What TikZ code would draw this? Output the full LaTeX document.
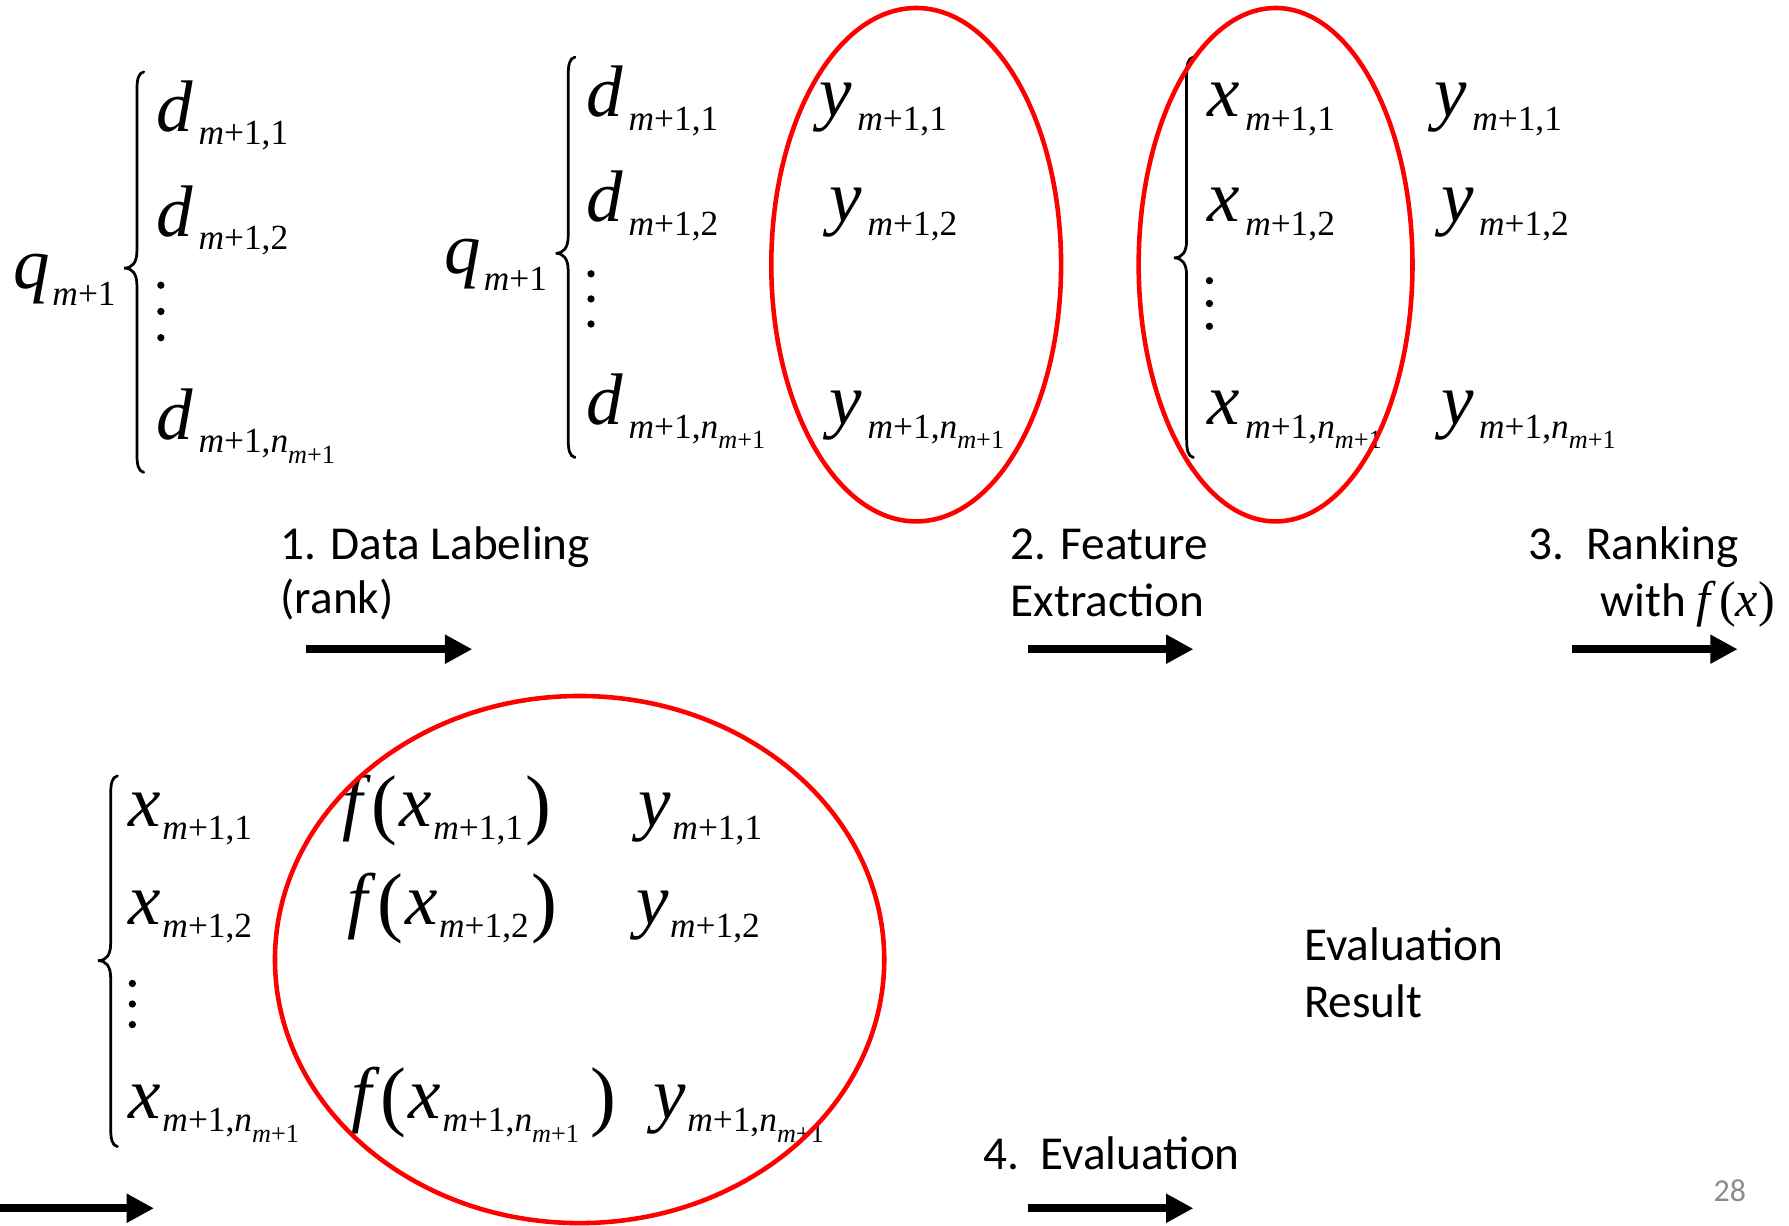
\documentclass[tikz,border=0pt]{standalone}
\usepackage{fontspec}
\setmainfont{Carlito}
\newfontfamily\tnr{Liberation Serif}
\usetikzlibrary{arrows.meta}
\definecolor{pagegray}{RGB}{140,140,140}
\definecolor{ellred}{RGB}{255,0,0}
\newcommand{\bsz}{\fontsize{32}{32}\selectfont}
\newcommand{\ssz}{\fontsize{15.5}{15.5}\selectfont}
\newcommand{\sssz}{\fontsize{11.5}{11.5}\selectfont}
\newcommand{\subkern}{2.5pt}
\newcommand{\mi}[1]{{\itshape #1}}
\newcommand{\lowsub}[1]{\kern\subkern\raisebox{-6pt}{\ssz\upshape #1}}
\newcommand{\nsub}{\mi{m}+1,\mi{n}\raisebox{-4.5pt}{\sssz\mi{m}+1}}
\newcommand{\tvar}[2]{{\tnr\bsz\mi{#1}\lowsub{#2}}}
\newcommand{\qvar}{{\tnr\bsz\mi{q}\kern1pt\raisebox{-7.5pt}{\ssz\mi{m}+1}}}
\newcommand{\fvar}[1]{{\tnr\bsz\mi{f}\kern4pt\raisebox{-1.5pt}{\fontsize{34}{34}\selectfont(}\kern1pt\mi{x}\lowsub{#1}\kern1pt\raisebox{-1.5pt}{\fontsize{34}{34}\selectfont)}}}
\newcommand{\tbrace}[4]{% #1 x of line, #2 top, #3 tip y, #4 bottom
  \draw[bracestyle] ({#1+6},#2) .. controls ({#1+1},{#2+1}) and (#1,{#2+7}) .. (#1,{#2+17})
    -- (#1,{#3-15}) .. controls (#1,{#3-5}) and ({#1-4},#3) .. ({#1-11},#3)
    .. controls ({#1-4},#3) and (#1,{#3+5}) .. (#1,{#3+15})
    -- (#1,{#4-17}) .. controls (#1,{#4-7}) and ({#1+1},{#4-1}) .. ({#1+6},#4);}
\newcommand{\vdotsat}[4]{\fill (#1,#2) circle (1.6pt) (#1,#3) circle (1.6pt) (#1,#4) circle (1.6pt);}
\begin{document}
\begin{tikzpicture}[x=0.5pt,y=-0.5pt,
  every node/.style={inner sep=0pt, outer sep=0pt, anchor=base west},
  lbl/.style={font=\fontsize{20.7}{24}\selectfont},
  tight/.style={execute at begin node={\renewcommand{\subkern}{0.5pt}}},
  bracestyle/.style={line width=1.2pt, line cap=round},
  bigarrow/.style={line width=3.5pt, -{Triangle[length=12pt,width=12pt]}},
  redell/.style={draw=ellred, line width=2pt}]
\useasboundingbox (0,0) rectangle (1568,1074);

% group 1
\node (q1) at (12,253) {\qvar};
\tbrace{120}{63}{235}{414}
\node (d11) at (137,115) {\tvar{d}{\mi{m}+1,1}};
\node (d12) at (137,207) {\tvar{d}{\mi{m}+1,2}};
\node (d1n) at (137,385) {\tvar{d}{\nsub}};
\vdotsat{141}{250}{273}{296}

% group 2
\node (q2) at (390,240) {\qvar};
\tbrace{498}{50}{222}{401}
\node (d21) at (514,102) {\tvar{d}{\mi{m}+1,1}};
\node (d22) at (514,194) {\tvar{d}{\mi{m}+1,2}};
\node (d2n) at (514,372) {\tvar{d}{\nsub}};
\vdotsat{518}{240}{262}{284}
\node (y21) at (718,102) {\tvar{y}{\mi{m}+1,1}};
\node (y22) at (727,194) {\tvar{y}{\mi{m}+1,2}};
\node (y2n) at (727,372) {\tvar{y}{\nsub}};

% group 3
\tbrace{1040}{50}{226}{401}
\node (x31) at (1058,102) {\tvar{x}{\mi{m}+1,1}};
\node (x32) at (1058,194) {\tvar{x}{\mi{m}+1,2}};
\node (x3n) at (1058,372) {\tvar{x}{\nsub}};
\vdotsat{1060}{246}{266}{286}
\node (y31) at (1257,102) {\tvar{y}{\mi{m}+1,1}};
\node (y32) at (1263,194) {\tvar{y}{\mi{m}+1,2}};
\node (y3n) at (1263,372) {\tvar{y}{\nsub}};

% group 4
\tbrace{97}{680}{842}{1005}
\node[tight] (x41) at (113,724) {\tvar{x}{\mi{m}+1,1}};
\node[tight] (x42) at (113,810) {\tvar{x}{\mi{m}+1,2}};
\node[tight] (x4n) at (113,980) {\tvar{x}{\nsub}};
\vdotsat{116}{862}{880}{898}
\node[tight] (f41) at (300,724) {\fvar{\mi{m}+1,1}};
\node[tight] (f42) at (305,810) {\fvar{\mi{m}+1,2}};
\node[tight] (f4n) at (308,980) {\fvar{\nsub\kern4pt}};
\node[tight] (y41) at (560,724) {\tvar{y}{\mi{m}+1,1}};
\node[tight] (y42) at (558,810) {\tvar{y}{\mi{m}+1,2}};
\node[tight] (y4n) at (573,980) {\tvar{y}{\nsub}};

% ellipses
\draw[redell] (803,232) ellipse [x radius=63.5pt, y radius=112.5pt];
\draw[redell] (1118,232) ellipse [x radius=60pt, y radius=112.5pt];
\draw[redell] (508,841) ellipse [x radius=133.5pt, y radius=115.5pt];

% labels
\node[lbl] (l1a) at (246,490) {1. Data Labeling};
\node[lbl] (l1b) at (246,538) {(rank)};
\node[lbl] (l2a) at (886,490) {2. Feature};
\node[lbl] (l2b) at (886,540) {Extraction};
\node[lbl] (l3a) at (1340,490) {3.\ \ Ranking};
\node[lbl] (l3b) at (1403,540) {with {\tnr\fontsize{22}{24}\selectfont\mi{f}\,(\mi{x})}};
\node[lbl] (l4) at (862,1025) {4.\ \ Evaluation};
\node[lbl] (er1) at (1143,842) {Evaluation};
\node[lbl] (er2) at (1143,892) {Result};
\node[font=\fontsize{14}{16}\selectfont, text=pagegray] (pg) at (1502,1053) {28};

% arrows
\coordinate (a1s) at (268,569); \coordinate (a1e) at (414,569);
\coordinate (a2s) at (901,569); \coordinate (a2e) at (1046,569);
\coordinate (a3s) at (1378,569); \coordinate (a3e) at (1523,569);
\coordinate (a4s) at (0,1059); \coordinate (a4e) at (135,1059);
\coordinate (a5s) at (901,1059); \coordinate (a5e) at (1046,1059);
\draw[bigarrow] (a1s) -- (a1e);
\draw[bigarrow] (a2s) -- (a2e);
\draw[bigarrow] (a3s) -- (a3e);
\draw[bigarrow] (a4s) -- (a4e);
\draw[bigarrow] (a5s) -- (a5e);
\end{tikzpicture}
\end{document}
